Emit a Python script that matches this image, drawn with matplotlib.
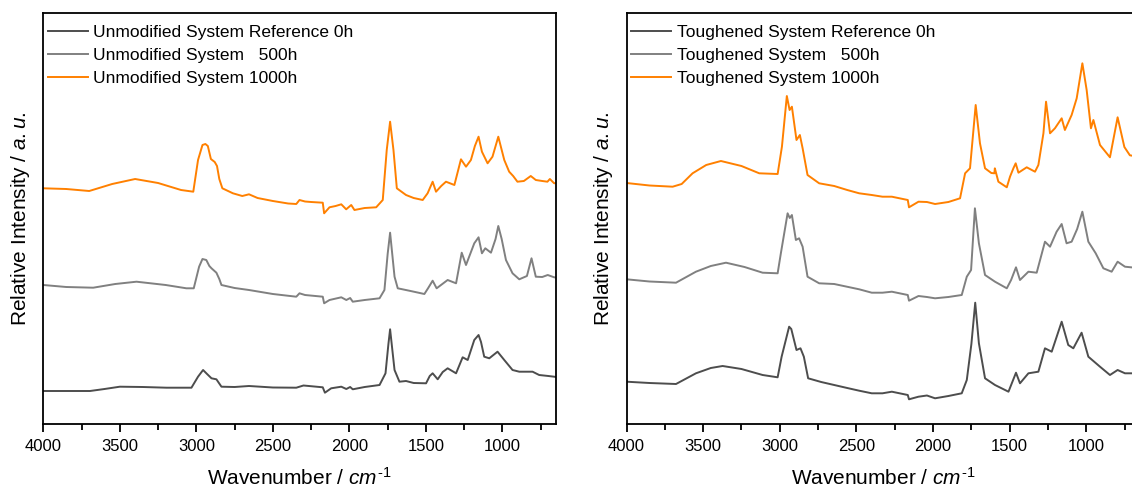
import matplotlib
matplotlib.use("Agg")
import matplotlib.pyplot as plt
from matplotlib.ticker import MultipleLocator

plt.rcParams['font.family'] = ['Liberation Sans', 'DejaVu Sans']
plt.rcParams['mathtext.fontset'] = 'custom'
plt.rcParams['mathtext.rm'] = 'Liberation Sans'
plt.rcParams['mathtext.it'] = 'Liberation Sans:italic'

# values: wavenumber (cm-1) and stacked intensity (a.u.)
unmod_0h_wn = [4000, 3850, 3695, 3600, 3500, 3350, 3195, 3032, 2989, 2956, 2930, 2901, 2869, 2836, 2750, 2656,
               2500, 2347, 2300, 2174, 2160, 2119, 2053, 2020, 1995, 1978, 1900, 1803, 1764, 1745, 1734, 1720,
               1705, 1673, 1630, 1580, 1499, 1475, 1456, 1423, 1390, 1358, 1303, 1260, 1227, 1184, 1156, 1140,
               1119, 1086, 1032, 988, 934, 890, 803, 760, 700, 662, 650]
unmod_0h = [33, 33, 33, 35, 37.3, 37, 36.3, 36.3, 47.3, 54, 50, 45.7, 44.7, 37.3, 37, 38,
            36.5, 36.3, 38.5, 36.7, 31.3, 35.7, 37.3, 35, 37, 34.7, 37, 39, 50.7, 80, 94.7, 75,
            54, 42.3, 43, 41, 40.7, 48, 50.7, 44.7, 52, 55.7, 50.7, 66.7, 64, 84, 89, 82,
            67.3, 65.7, 72.3, 64, 54, 52.3, 52.3, 49, 48, 47.3, 47]

unmod_500h_wn = [4000, 3850, 3674, 3530, 3391, 3200, 3065, 3017, 2982, 2960, 2935, 2915, 2901, 2869, 2850, 2836,
                 2750, 2656, 2500, 2347, 2326, 2290, 2174, 2165, 2130, 2053, 2020, 1995, 1978, 1900, 1803, 1771,
                 1750, 1734, 1720, 1705, 1684, 1600, 1510, 1485, 1456, 1430, 1358, 1303, 1266, 1238, 1184, 1156,
                 1134, 1112, 1075, 1045, 1027, 1005, 977, 934, 890, 840, 810, 782, 740, 704, 662, 650]
unmod_500h = [139, 137, 136.3, 140, 142.3, 139, 135.7, 135.7, 157.3, 165, 164, 158, 155.7, 151.3, 145, 139,
              136, 134, 130, 127.3, 130.7, 129, 127.3, 120.7, 124, 126.7, 124, 126, 122.3, 124, 125.7, 134,
              170, 191.3, 170, 147.3, 135.7, 133, 130, 136, 143.3, 135.7, 144, 140.7, 171.3, 159, 180.7, 186.7,
              170.7, 175.7, 171.3, 185, 198, 185, 164, 150.7, 144.7, 148, 165.7, 147.3, 147, 149, 146.7, 146.5]

unmod_1000h_wn = [4000, 3850, 3700, 3550, 3400, 3250, 3100, 3020, 2989, 2960, 2941, 2925, 2905, 2880, 2865, 2850,
                  2830, 2761, 2700, 2656, 2600, 2500, 2400, 2347, 2326, 2290, 2250, 2174, 2165, 2130, 2090, 2053,
                  2021, 1988, 1967, 1900, 1825, 1782, 1756, 1734, 1712, 1690, 1630, 1580, 1521, 1489, 1456, 1434,
                  1400, 1369, 1314, 1271, 1238, 1206, 1180, 1156, 1134, 1097, 1065, 1027, 988, 956, 930, 902,
                  860, 815, 782, 740, 706, 690, 662, 650]
unmod_1000h = [235.7, 235, 233, 240, 245, 241, 234, 232.3, 264, 279, 280, 278, 265, 262, 258, 245,
               235.7, 230.7, 228, 229.7, 226, 223, 220.5, 220, 224, 222.5, 222, 221.3, 210.7, 216.7, 218, 219.7,
               214.7, 219, 214, 216, 216.7, 224, 274, 302.3, 274, 235.7, 229, 226, 224, 230.7, 242.3, 232.3,
               238, 242.3, 239, 264.7, 257.3, 264, 278, 287.3, 272.3, 260.7, 267.3, 287.3, 264, 252.3, 248, 242.3,
               243, 248, 244, 243, 242.3, 245, 240.7, 241]

tough_0h_wn = [4000, 3850, 3677, 3547, 3450, 3373, 3250, 3112, 3014, 2988, 2939, 2925, 2891, 2865, 2843, 2815,
               2730, 2645, 2560, 2482, 2400, 2330, 2269, 2165, 2157, 2095, 2040, 1987, 1900, 1813, 1780, 1750,
               1725, 1701, 1661, 1596, 1508, 1459, 1433, 1378, 1313, 1270, 1226, 1161, 1118, 1085, 1031, 987,
               911, 846, 796, 748, 709, 650]
tough_0h = [42.3, 41, 40, 50.7, 56, 58, 55, 49, 46.7, 67.3, 97.3, 95, 74, 75.7, 67.3, 45.7,
            42, 39, 36, 33.3, 30.7, 30.7, 32.3, 29, 24.7, 27.3, 28.5, 25.7, 28, 30.7, 44, 80,
            121.3, 80.7, 45.7, 39, 32.3, 51.3, 40.7, 50.7, 52.3, 75.7, 72.3, 102.3, 79, 75.7, 91.3, 67.3,
            57.3, 49, 54, 50.7, 50.7, 50.5]

tough_500h_wn = [4000, 3850, 3677, 3547, 3450, 3351, 3230, 3112, 3014, 2993, 2949, 2935, 2921, 2895, 2874, 2851,
                 2819, 2743, 2645, 2482, 2400, 2330, 2269, 2165, 2157, 2095, 2040, 1987, 1900, 1813, 1780, 1752,
                 1727, 1701, 1661, 1596, 1519, 1491, 1459, 1433, 1378, 1324, 1270, 1237, 1194, 1161, 1129, 1096,
                 1060, 1026, 987, 939, 889, 835, 796, 748, 709, 650]
tough_500h = [144.7, 142.5, 141.3, 152.3, 158, 161.3, 157, 151.3, 150.7, 170.7, 210.7, 206, 209, 184, 185.7, 177.3,
              147.3, 140.7, 140, 134.7, 131.3, 131.3, 132.3, 129, 123.3, 128, 127, 125.7, 127, 129, 147.3, 154,
              215.7, 180.7, 149, 142.3, 135.7, 144, 156.7, 144, 152.3, 151.3, 182.3, 177.3, 192.3, 200, 180.7, 182.3,
              195, 212.3, 182.3, 170.7, 155.7, 152.3, 162.3, 157.3, 156.7, 156]

tough_1000h_wn = [4000, 3850, 3699, 3640, 3569, 3480, 3384, 3250, 3134, 3014, 2986, 2954, 2936, 2921, 2891, 2869,
                  2851, 2819, 2743, 2645, 2560, 2482, 2400, 2330, 2269, 2165, 2157, 2095, 2040, 1987, 1900, 1824,
                  1791, 1759, 1722, 1694, 1661, 1620, 1600, 1597, 1574, 1519, 1498, 1476, 1461, 1443, 1389, 1335,
                  1313, 1280, 1263, 1237, 1205, 1161, 1140, 1096, 1063, 1026, 998, 970, 954, 911, 846, 796,
                  752, 716, 690, 650]
tough_1000h = [241, 238.5, 237.3, 240, 250.7, 259, 263, 258, 250.7, 250, 277.3, 328, 314, 317.3, 284, 289,
               275.7, 249, 240.7, 238, 234, 230.7, 229, 227.3, 227.3, 224, 216.7, 222.3, 222, 220, 222, 225.7,
               250.7, 255.7, 319, 280.7, 255.7, 251, 250.7, 255.7, 242.3, 236.7, 247.3, 255.7, 260.7, 251.3, 256.7, 252.3,
               259, 290.7, 322.3, 290.7, 295.7, 305.7, 294, 309, 325.7, 360.7, 334, 295.7, 304, 279, 266.7, 306.7,
               277, 268.7, 268, 268]

colors = ['#4d4d4d', '#808080', '#ff8000']

fig = plt.figure(figsize=(11.32, 4.9), dpi=100)
ax1 = fig.add_axes([43.3 / 1132, 66 / 490, 512.7 / 1132, 411.4 / 490])
ax2 = fig.add_axes([626.5 / 1132, 66 / 490, 513.5 / 1132, 411.4 / 490])

panels = [
    (ax1, 'Unmodified System', [(unmod_0h_wn, unmod_0h), (unmod_500h_wn, unmod_500h), (unmod_1000h_wn, unmod_1000h)]),
    (ax2, 'Toughened System', [(tough_0h_wn, tough_0h), (tough_500h_wn, tough_500h), (tough_1000h_wn, tough_1000h)]),
]

for ax, name, series in panels:
    labels = [name + ' Reference 0h', name + '   500h', name + ' 1000h']
    for (wn, y), c, lab in zip(series, colors, labels):
        ax.plot(wn, y, color=c, lw=1.4, label=lab)
    ax.set_xlim(4000, 650)
    ax.set_ylim(0, 411.4)
    ax.xaxis.set_major_locator(MultipleLocator(500))
    ax.xaxis.set_minor_locator(MultipleLocator(250))
    ax.set_yticks([])
    ax.tick_params(axis='x', which='major', direction='out', length=6, width=1.3, labelsize=12, pad=5)
    ax.tick_params(axis='x', which='minor', direction='out', length=4, width=1.3)
    for sp in ax.spines.values():
        sp.set_linewidth(1.3)
    ax.set_xlabel(r'Wavenumber / $\mathit{cm}^{\text{-1}}$', fontsize=15, labelpad=9)
    ax.set_ylabel(r'Relative Intensity / $\mathit{a.u.}$', fontsize=15, labelpad=8)
    ax.legend(loc='upper left', bbox_to_anchor=(-0.014, 1.0), frameon=False, fontsize=12.5,
              handlelength=2.3, handletextpad=0.3, labelspacing=0.46, borderaxespad=0.5, borderpad=0.2)

fig.savefig('out.png', dpi=100)
